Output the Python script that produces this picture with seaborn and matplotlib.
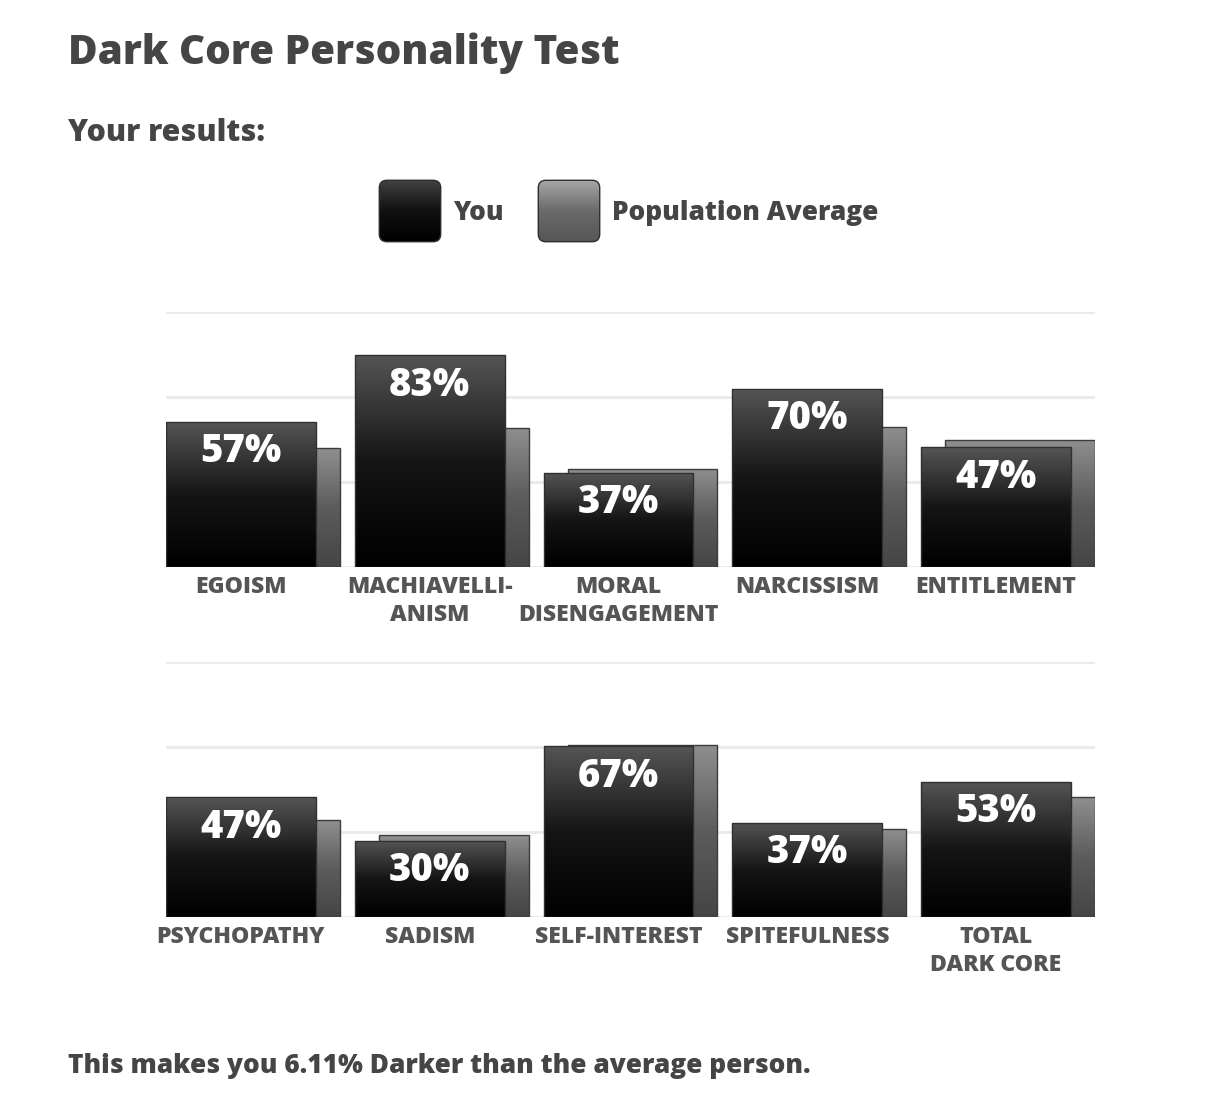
import numpy as np
import pandas as pd
import seaborn as sns
import matplotlib.pyplot as plt
from matplotlib.patches import FancyBboxPatch
from matplotlib.colors import LinearSegmentedColormap

# values (percent)
top_traits = ["EGOISM", "MACHIAVELLI-\nANISM", "MORAL\nDISENGAGEMENT", "NARCISSISM", "ENTITLEMENT"]
top_you = [57, 83, 37, 70, 47]
top_avg = [46.5, 54.5, 38.5, 55, 50]

bottom_traits = ["PSYCHOPATHY", "SADISM", "SELF-INTEREST", "SPITEFULNESS", "TOTAL\nDARK CORE"]
bottom_you = [47, 30, 67, 37, 53]
bottom_avg = [38, 32, 67.5, 34.5, 47]

grid_ticks = [0, 100 / 3, 200 / 3, 100]

sns.set_theme(style="white")
plt.rcParams['font.family'] = ['Open Sans', 'DejaVu Sans']

TEXT = "#454545"
WEIGHT = 800
you_cmap = LinearSegmentedColormap.from_list("you", ["#000000", "#151515", "#555555"])
avg_cmap = LinearSegmentedColormap.from_list("avg", ["#454545", "#5c5c5c", "#8f8f8f"])
grad = np.linspace(0, 1, 256).reshape(-1, 1)

BAR_W = 0.794
SHIFT = 0.127  # population bar sits behind, a bit to the right


def fill_gradient(ax, patch, cmap, z):
    x0, y0 = patch.get_x(), patch.get_y()
    w, h = patch.get_width(), patch.get_height()
    im = ax.imshow(grad, cmap=cmap, aspect='auto', origin='lower',
                   extent=(x0, x0 + w, y0, y0 + h), zorder=z, interpolation='bicubic')
    im.set_clip_path(patch)
    patch.set_facecolor('none')
    patch.set_zorder(z + 0.5)


def draw_panel(ax, traits, you, avg):
    df = pd.DataFrame({"trait": traits, "you": you, "avg": avg})
    sns.barplot(data=df, x="trait", y="avg", ax=ax, width=BAR_W, color="#666666", errorbar=None)
    n = len(ax.patches)
    sns.barplot(data=df, x="trait", y="you", ax=ax, width=BAR_W, color="#222222", errorbar=None)
    avg_bars = list(ax.patches[:n])
    you_bars = list(ax.patches[n:])

    for bar in avg_bars:
        bar.set_x(bar.get_x() + SHIFT)
        bar.set_edgecolor("#3c3c3c")
        bar.set_linewidth(1.0)
        fill_gradient(ax, bar, avg_cmap, 2)
    for bar, v in zip(you_bars, you):
        bar.set_edgecolor("#303030")
        bar.set_linewidth(1.0)
        fill_gradient(ax, bar, you_cmap, 4)
        ax.annotate(f"{v}%", xy=(bar.get_x() + bar.get_width() / 2, bar.get_height()),
                    xytext=(0, -21.5), textcoords='offset points', ha='center', va='center',
                    color='white', fontsize=27.5, fontweight=WEIGHT, zorder=6)

    ax.set_xlim(-BAR_W / 2, 4 + BAR_W / 2 + SHIFT)
    ax.set_ylim(0, 100)
    ax.set_yticks(grid_ticks)
    ax.set_yticklabels([])
    ax.yaxis.grid(True, color="#e9e9e9", lw=2)
    ax.xaxis.grid(False)
    ax.set_axisbelow(True)
    ax.set_xlabel("")
    ax.set_ylabel("")
    ax.tick_params(axis='both', length=0)
    ax.tick_params(axis='x', pad=5.5, labelsize=16.6, labelcolor="#555555")
    for lab in ax.get_xticklabels():
        lab.set_fontweight(WEIGHT)
        lab.set_linespacing(1.25)
    sns.despine(ax=ax, left=True, bottom=True)


fig = plt.figure(figsize=(12.1, 10.96), dpi=100)
W, H = 1210, 1096

ax_top = fig.add_axes([166 / W, 1 - 567 / H, 929 / W, 255 / H])
ax_bot = fig.add_axes([166 / W, 1 - 917 / H, 929 / W, 255 / H])
draw_panel(ax_top, top_traits, top_you, top_avg)
draw_panel(ax_bot, bottom_traits, bottom_you, bottom_avg)

# headings
fig.text(68 / W, 1 - 64 / H, "Dark Core Personality Test", fontsize=29.1, fontweight=WEIGHT,
         color=TEXT, va='baseline', ha='left')
fig.text(68 / W, 1 - 141 / H, "Your results:", fontsize=21.8, fontweight=WEIGHT,
         color=TEXT, va='baseline', ha='left')
fig.text(68 / W, 1 - 1073 / H, "This makes you 6.11% Darker than the average person.",
         fontsize=18.9, fontweight=WEIGHT, color=TEXT, va='baseline', ha='left')

# legend swatches with gradients
swatches = [(378, ["#000000", "#111111", "#454545"], "You", 453),
            (537, ["#555555", "#6a6a6a", "#ababab"], "Population Average", 612)]
for left, cols, label, tx in swatches:
    sax = fig.add_axes([left / W, 1 - 243 / H, 64 / W, 64 / H])
    sax.set_xlim(0, 1)
    sax.set_ylim(0, 1)
    sax.axis('off')
    box = FancyBboxPatch((0.02, 0.02), 0.96, 0.96, boxstyle="round,pad=0,rounding_size=0.12",
                         facecolor='none', edgecolor="#2e2e2e", lw=1.0, transform=sax.transData, zorder=3)
    sax.add_patch(box)
    sw = LinearSegmentedColormap.from_list(label, cols)
    im = sax.imshow(grad, cmap=sw, aspect='auto', origin='lower', extent=(0, 1, 0, 1), zorder=2)
    im.set_clip_path(box)
    fig.text(tx / W, 1 - 220 / H, label, fontsize=18.9, fontweight=WEIGHT, color=TEXT,
             va='baseline', ha='left')

fig.savefig("out.png", dpi=100, facecolor='white')
